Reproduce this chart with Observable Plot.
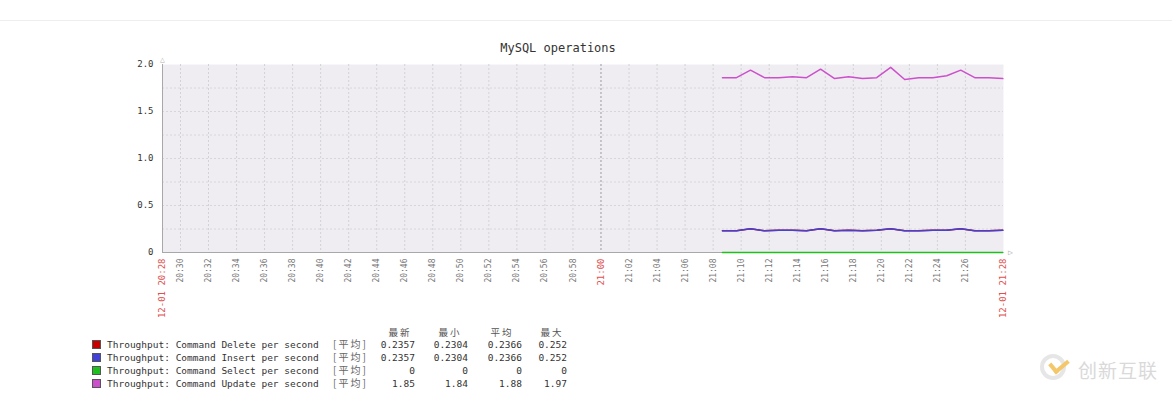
<!DOCTYPE html>
<html>
<head>
<meta charset="utf-8">
<script src="https://cdn.jsdelivr.net/npm/d3@7"></script>
<script src="https://cdn.jsdelivr.net/npm/@observablehq/plot@0.6"></script>
<style>
  html, body { margin: 0; padding: 0; background: #fff; }
  #wrap { position: relative; width: 1172px; height: 399px; overflow: hidden; font-family: "DejaVu Sans Mono", monospace; }
  #sep { position: absolute; left: 0; top: 20px; width: 1172px; height: 1px; background: #eeeeee; }
  #chart { position: absolute; left: 0; top: 0; }
  .lg { position: absolute; font-size: 9.5px; color: #333; white-space: pre; line-height: 12px; }
  .sw { position: absolute; width: 9px; height: 9px; }
  .hd { color: #555; font-family: "Noto Sans CJK SC", "DejaVu Sans Mono", monospace; font-size: 9.5px; }
  .fn { color: #666; font-family: "Noto Sans CJK SC", "DejaVu Sans Mono", monospace; font-size: 10px; letter-spacing: 2px; }
  #wm { position: absolute; left: 1078px; top: 356px; font-family: "Noto Sans CJK SC", sans-serif; font-size: 19px; color: #d9d9d9; letter-spacing: 1px; }
  #wmc { position: absolute; left: 1040px; top: 354px; width: 26px; height: 26px; border-radius: 50%; border: 4px solid #e6e6e6; box-sizing: border-box; }
  #wmk { position: absolute; left: 1050px; top: 358px; width: 14px; height: 8px; border-left: 4px solid #f3c76a; border-bottom: 4px solid #f3c76a; transform: rotate(-40deg); }
</style>
</head>
<body>
<div id="wrap">
  <div id="sep"></div>
  <div id="chart"></div>
  <div id="legend"></div>
  <div id="wmc"></div>
  <div id="wmk"></div>
  <div id="wm">创新互联</div>
</div>
<script>
// ---- data ----
const title = "MySQL operations";
const times = ["21:08:40","21:09:40","21:10:40","21:11:40","21:12:40","21:13:40","21:14:40",
  "21:15:40","21:16:40","21:17:40","21:18:40","21:19:40","21:20:40","21:21:40",
  "21:22:40","21:23:40","21:24:40","21:25:40","21:26:40","21:27:40","21:28:40"];
const deleteValues = [0.2304,0.2304,0.252,0.2304,0.2357,0.2357,0.2304,0.252,0.2304,0.2357,0.2304,
  0.2357,0.252,0.2304,0.2304,0.2357,0.2357,0.252,0.2304,0.2304,0.2357];
const insertValues = [0.2304,0.2304,0.252,0.2304,0.2357,0.2357,0.2304,0.252,0.2304,0.2357,0.2304,
  0.2357,0.252,0.2304,0.2304,0.2357,0.2357,0.252,0.2304,0.2304,0.2357];
const selectValues = [0,0,0,0,0,0,0,0,0,0,0,0,0,0,0,0,0,0,0,0,0];
const updateValues = [1.86,1.86,1.94,1.86,1.86,1.87,1.86,1.95,1.85,1.87,1.85,
  1.86,1.97,1.84,1.86,1.86,1.88,1.94,1.86,1.86,1.85];
const seriesNames = ["Throughput: Command Delete per second","Throughput: Command Insert per second",
  "Throughput: Command Select per second","Throughput: Command Update per second"];
const seriesColors = ["#c80000","#4242d8","#1fbf1f","#cc50cc"];
const legendHeaders = ["最新","最小","平均","最大"];
const legendFunc = "[平均]";
const lastVals = ["0.2357","0.2357","0","1.85"];
const minVals = ["0.2304","0.2304","0","1.84"];
const avgVals = ["0.2366","0.2366","0","1.88"];
const maxVals = ["0.252","0.252","0","1.97"];
const periodStart = "20:28:43";
const periodEnd = "21:28:43";
const dateLabel = "12-01";
const tickLabels = ["20:30","20:32","20:34","20:36","20:38","20:40","20:42","20:44","20:46","20:48",
  "20:50","20:52","20:54","20:56","20:58","21:02","21:04","21:06","21:08","21:10","21:12",
  "21:14","21:16","21:18","21:20","21:22","21:24","21:26"];
const redTickLabels = ["21:00"];
const yTicks = [0, 0.5, 1, 1.5, 2];
const yGrid = [0.25, 0.5, 0.75, 1, 1.25, 1.5, 1.75];

// ---- helpers ----
const toDate = s => { const [h, m, sec] = s.split(":").map(Number); return new Date(Date.UTC(2017, 11, 1, h, m, sec || 0)); };
const t0 = toDate(periodStart), t1 = toDate(periodEnd);
const valueSets = [deleteValues, insertValues, selectValues, updateValues];
const rows = [];
valueSets.forEach((vals, si) => vals.forEach((v, i) => rows.push({series: seriesNames[si], t: toDate(times[i]), v})));
const tickDates = tickLabels.map(toDate);
const redDates = redTickLabels.map(toDate);
const endLabels = [{t: t0, label: dateLabel + " " + periodStart.slice(0,5)}, {t: t1, label: dateLabel + " " + periodEnd.slice(0,5)}];

const chart = Plot.plot({
  width: 1172,
  height: 399,
  marginLeft: 162,
  marginRight: 169,
  marginTop: 64,
  marginBottom: 147,
  style: {fontFamily: "DejaVu Sans Mono, monospace", fontSize: "9px", background: "transparent", overflow: "visible"},
  x: {type: "utc", domain: [t0, t1], axis: null},
  y: {domain: [0, 2], axis: null},
  color: {domain: seriesNames, range: seriesColors},
  marks: [
    Plot.frame({fill: "#efedf1", stroke: "none"}),
    Plot.ruleX(tickDates, {stroke: "#d2d2d6", strokeDasharray: "2,2"}),
    Plot.ruleY(yGrid, {stroke: "#d6d6da", strokeDasharray: "2,2"}),
    Plot.ruleX(redDates, {stroke: "#9a9aa0", strokeDasharray: "2,2"}),
    Plot.ruleX([t0], {stroke: "#a8a8a8"}),
    Plot.ruleY([0], {stroke: "#a8a8a8"}),
    Plot.text([t0], {x: d => d, y: 2, dy: -5, text: () => "△", fill: "#b0b0b0", fontSize: 8}),
    Plot.text([t1], {x: d => d, y: 0, dx: 7, text: () => "▷", fill: "#b0b0b0", fontSize: 8}),
    Plot.line(rows, {x: "t", y: "v", z: "series", stroke: "series", strokeWidth: 1.5}),
    Plot.text(yTicks, {x: () => t0, y: d => d, text: d => d === 0 ? "0" : d.toFixed(1), textAnchor: "end", dx: -9, fill: "#333", fontSize: 9}),
    Plot.text(tickDates, {x: d => d, y: () => 0, text: (d, i) => tickLabels[i], rotate: -90, textAnchor: "end", dy: 6, fill: "#777", fontSize: 8}),
    Plot.text(redDates, {x: d => d, y: () => 0, text: (d, i) => redTickLabels[i], rotate: -90, textAnchor: "end", dy: 6, fill: "#e05050", fontSize: 9}),
    Plot.text(endLabels, {x: "t", y: () => 0, text: "label", rotate: -90, textAnchor: "end", dy: 6, fill: "#e05050", fontSize: 9}),
    Plot.text([title], {x: () => new Date((+t0 + +t1) / 2), y: () => 2, text: d => d, dx: -25, dy: -16, fill: "#333", fontSize: 12})
  ]
});
document.getElementById("chart").appendChild(chart);

// ---- legend (HTML) ----
const lg = document.getElementById("legend");
const add = (html, cls, left, top, extra) => {
  const el = document.createElement("div");
  el.className = cls;
  el.style.left = left + "px";
  el.style.top = top + "px";
  if (extra) Object.assign(el.style, extra);
  el.textContent = html;
  lg.appendChild(el);
  return el;
};
const colRight = [415, 468, 522, 567];
const headCenter = [400, 450, 502, 552];
legendHeaders.forEach((h, i) => add(h, "lg hd", headCenter[i] - 20, 326, {width: "40px", textAlign: "center", letterSpacing: "2px"}));
const rowTop = [339, 352, 365, 378];
seriesNames.forEach((name, i) => {
  const sw = document.createElement("div");
  sw.className = "sw";
  sw.style.left = "92px"; sw.style.top = (rowTop[i] + 1) + "px";
  sw.style.background = seriesColors[i];
  sw.style.border = "1px solid #555";
  sw.style.boxSizing = "border-box";
  lg.appendChild(sw);
  add(name, "lg", 107, rowTop[i]);
  add(legendFunc, "lg fn", 333, rowTop[i] - 1);
  [lastVals, minVals, avgVals, maxVals].forEach((arr, c) => add(arr[i], "lg", colRight[c] - 60, rowTop[i], {width: "60px", textAlign: "right"}));
});
</script>
</body>
</html>
